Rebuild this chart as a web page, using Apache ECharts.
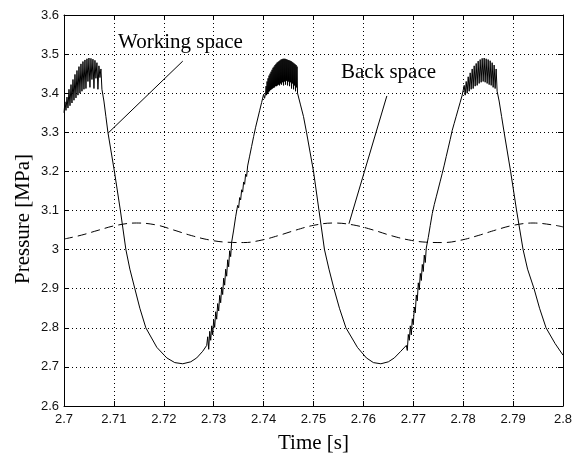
<!DOCTYPE html>
<html>
<head>
<meta charset="utf-8">
<script src="https://cdn.jsdelivr.net/npm/echarts@6/dist/echarts.min.js"></script>
<style>
  html, body { margin: 0; padding: 0; background: #fff; }
  #chart { width: 584px; height: 459px; }
</style>
</head>
<body>
<div id="chart"></div>
<script>
// tick values
var timeTicks = [2.7, 2.71, 2.72, 2.73, 2.74, 2.75, 2.76, 2.77, 2.78, 2.79, 2.8];
var pressureTicks = [2.6, 2.7, 2.8, 2.9, 3.0, 3.1, 3.2, 3.3, 3.4, 3.5, 3.6];

// working space pressure [time, MPa] (incl. the ripple at the peaks)
var workingSpace = [
  // first peak
  [2.7000,3.350],[2.7002,3.378],[2.7004,3.356],[2.7006,3.390],[2.7008,3.362],[2.7010,3.410],
  [2.7012,3.368],[2.7014,3.422],[2.7016,3.375],[2.7018,3.435],[2.7020,3.382],[2.7022,3.448],
  [2.7024,3.388],[2.7026,3.458],[2.7028,3.395],[2.7030,3.468],[2.7032,3.400],[2.7034,3.475],
  [2.7036,3.405],[2.7038,3.481],[2.7040,3.410],[2.7042,3.485],[2.7044,3.412],[2.7046,3.488],
  [2.7048,3.430],[2.7050,3.490],[2.7052,3.415],[2.7054,3.489],[2.7056,3.435],[2.7058,3.487],
  [2.7060,3.412],[2.7062,3.484],[2.7064,3.438],[2.7066,3.478],[2.7068,3.410],[2.7070,3.470],
  [2.7072,3.440],[2.7074,3.462],[2.7076,3.410],
  // expansion / first valley
  [2.7080,3.380],[2.7084,3.340],[2.7088,3.300],[2.7101,3.200],[2.7113,3.100],[2.7124,3.000],
  [2.7132,2.950],[2.7142,2.900],[2.7152,2.850],[2.7164,2.800],[2.7186,2.750],[2.7206,2.723],
  [2.7222,2.711],[2.7238,2.708],[2.7254,2.713],[2.7266,2.723],[2.7278,2.740],
  // first compression
  [2.7286,2.755],[2.7288,2.777],[2.7290,2.745],[2.7292,2.791],[2.7294,2.768],[2.7296,2.805],
  [2.7298,2.782],[2.7300,2.820],[2.7302,2.801],[2.7304,2.841],[2.7306,2.822],[2.7308,2.862],
  [2.7310,2.843],[2.7312,2.883],[2.7314,2.864],[2.7316,2.904],[2.7318,2.885],[2.7320,2.927],
  [2.7322,2.909],[2.7324,2.950],[2.7326,2.932],[2.7328,2.974],[2.7330,2.956],[2.7332,2.997],
  [2.7334,2.982],[2.7336,3.019],[2.7338,3.014],[2.7340,3.050],[2.7342,3.047],[2.7344,3.084],
  [2.7346,3.080],[2.7348,3.113],[2.7350,3.107],[2.7352,3.133],[2.7354,3.127],[2.7356,3.153],
  [2.7358,3.147],[2.7360,3.173],[2.7362,3.167],[2.7364,3.193],[2.7366,3.187],[2.7368,3.214],
  [2.7370,3.211],[2.7372,3.239],[2.7374,3.236],[2.7376,3.264],[2.7378,3.261],[2.7380,3.289],
  [2.7382,3.286],[2.7384,3.313],[2.7386,3.308],[2.7388,3.334],[2.7390,3.329],[2.7392,3.355],
  [2.7394,3.350],[2.7396,3.376],[2.7398,3.371],[2.7400,3.397],[2.7402,3.387],
  // second peak
  [2.7404,3.400],[2.7405,3.418],[2.7406,3.395],[2.7407,3.430],[2.7408,3.398],[2.7409,3.438],
  [2.7410,3.402],[2.7411,3.445],[2.7412,3.405],[2.7413,3.450],[2.7414,3.408],[2.7415,3.455],
  [2.7416,3.410],[2.7417,3.460],[2.7418,3.412],[2.7419,3.465],[2.7420,3.414],[2.7421,3.468],
  [2.7422,3.415],[2.7423,3.472],[2.7424,3.418],[2.7425,3.475],[2.7426,3.418],[2.7427,3.478],
  [2.7428,3.420],[2.7429,3.480],[2.7430,3.422],[2.7431,3.482],[2.7432,3.420],[2.7433,3.484],
  [2.7434,3.425],[2.7435,3.486],[2.7436,3.422],[2.7437,3.487],[2.7438,3.428],[2.7439,3.488],
  [2.7440,3.420],[2.7441,3.488],[2.7442,3.430],[2.7443,3.488],[2.7444,3.422],[2.7445,3.487],
  [2.7446,3.432],[2.7447,3.486],[2.7448,3.420],[2.7449,3.485],[2.7450,3.430],[2.7451,3.484],
  [2.7452,3.418],[2.7453,3.483],[2.7454,3.428],[2.7455,3.482],[2.7456,3.412],[2.7457,3.480],
  [2.7458,3.425],[2.7459,3.478],[2.7460,3.410],[2.7461,3.476],[2.7462,3.420],[2.7463,3.474],
  [2.7464,3.405],[2.7465,3.472],[2.7466,3.415],[2.7467,3.468],[2.7468,3.400],
  // expansion / second valley
  [2.7474,3.370],[2.7480,3.340],[2.7486,3.300],[2.7500,3.200],[2.7511,3.100],[2.7522,3.000],
  [2.7531,2.950],[2.7541,2.900],[2.7552,2.850],[2.7565,2.800],[2.7588,2.750],[2.7606,2.723],
  [2.7620,2.711],[2.7635,2.708],[2.7650,2.713],[2.7662,2.723],[2.7675,2.740],
  // second compression
  [2.7686,2.755],[2.7688,2.742],[2.7690,2.783],[2.7692,2.768],[2.7694,2.805],[2.7696,2.782],
  [2.7698,2.823],[2.7700,2.808],[2.7702,2.853],[2.7704,2.838],[2.7706,2.884],[2.7708,2.869],
  [2.7710,2.915],[2.7712,2.897],[2.7714,2.939],[2.7716,2.921],[2.7718,2.962],[2.7720,2.944],
  [2.7722,2.986],[2.7724,2.967],[2.7726,3.004],[2.7728,3.000],[2.7730,3.031],[2.7732,3.031],
  [2.7734,3.062],[2.7736,3.062],[2.7738,3.092],[2.7740,3.094],[2.7742,3.115],[2.7744,3.115],
  [2.7746,3.135],[2.7748,3.135],[2.7750,3.155],[2.7752,3.155],[2.7754,3.175],[2.7756,3.175],
  [2.7758,3.195],[2.7760,3.195],[2.7762,3.216],[2.7764,3.217],[2.7766,3.238],[2.7768,3.239],
  [2.7770,3.260],[2.7772,3.261],[2.7774,3.282],[2.7776,3.283],[2.7778,3.305],[2.7780,3.304],
  [2.7782,3.323],[2.7784,3.322],[2.7786,3.341],[2.7788,3.340],[2.7790,3.359],[2.7792,3.358],
  [2.7794,3.377],[2.7796,3.376],[2.7798,3.395],
  // third peak
  [2.7800,3.400],[2.7802,3.420],[2.7804,3.395],[2.7806,3.430],[2.7808,3.400],[2.7810,3.442],
  [2.7812,3.405],[2.7814,3.452],[2.7816,3.410],[2.7818,3.462],[2.7820,3.412],[2.7822,3.470],
  [2.7824,3.418],[2.7826,3.476],[2.7828,3.420],[2.7830,3.482],[2.7832,3.425],[2.7834,3.486],
  [2.7836,3.428],[2.7838,3.489],[2.7840,3.430],[2.7842,3.490],[2.7844,3.428],[2.7846,3.488],
  [2.7848,3.425],[2.7850,3.486],[2.7852,3.422],[2.7854,3.483],[2.7856,3.420],[2.7858,3.478],
  [2.7860,3.415],[2.7862,3.472],[2.7864,3.412],[2.7866,3.462],[2.7868,3.405],
  // expansion
  [2.7872,3.380],[2.7877,3.340],[2.7882,3.300],[2.7895,3.200],[2.7907,3.100],[2.7920,3.000],
  [2.7929,2.950],[2.7942,2.900],[2.7953,2.850],[2.7966,2.800],[2.7984,2.760],[2.8000,2.730]
];

// back space pressure [time, MPa]
var backSpace = [
  [2.700,3.027],[2.7035,3.037],[2.707,3.050],[2.7105,3.062],[2.7145,3.068],[2.7185,3.063],
  [2.722,3.050],[2.7255,3.036],[2.729,3.025],[2.7325,3.019],[2.736,3.018],[2.7395,3.024],
  [2.743,3.036],[2.7465,3.050],[2.750,3.062],[2.754,3.068],[2.758,3.063],[2.762,3.050],
  [2.7655,3.036],[2.769,3.025],[2.7725,3.019],[2.776,3.018],[2.7795,3.024],[2.783,3.036],
  [2.7865,3.050],[2.790,3.062],[2.794,3.068],[2.798,3.063],[2.800,3.058]
];

// annotation leader lines (from curve to label)
var workingLeader = [[2.7090, 3.300], [2.7238, 3.482]];
var backLeader = [[2.7571, 3.066], [2.7647, 3.393]];

var myChart = echarts.init(document.getElementById('chart'));

var serif = '"Liberation Serif", "Times New Roman", serif';
var fmt = function (v) { return String(+v.toFixed(2)); };

function xAx(pos, labels) {
  return {
    type: 'value', position: pos, min: 2.7, max: 2.8, interval: 0.01,
    axisLine: { show: true, onZero: false, lineStyle: { color: '#000', width: 1 } },
    axisTick: { show: true, inside: true, length: 5, lineStyle: { color: '#000' } },
    axisLabel: { show: labels, formatter: fmt, margin: 7, color: '#111', fontSize: 13, fontFamily: '"Liberation Sans", Arial, sans-serif' },
    splitLine: { show: labels, lineStyle: { color: '#000', width: 1, type: [1, 3] } }
  };
}
function yAx(pos, labels) {
  return {
    type: 'value', position: pos, min: 2.6, max: 3.6, interval: 0.1,
    axisLine: { show: true, onZero: false, lineStyle: { color: '#000', width: 1 } },
    axisTick: { show: true, inside: true, length: 5, lineStyle: { color: '#000' } },
    axisLabel: { show: labels, formatter: fmt, margin: 5, color: '#111', fontSize: 13, fontFamily: '"Liberation Sans", Arial, sans-serif' },
    splitLine: { show: labels, lineStyle: { color: '#000', width: 1, type: [1, 3] } }
  };
}

var xMain = xAx('bottom', true);
xMain.name = 'Time [s]';
xMain.nameLocation = 'middle';
xMain.nameGap = 27;
xMain.nameTextStyle = { fontFamily: serif, fontSize: 21, color: '#000', verticalAlign: 'top' };

option = {
  animation: false,
  backgroundColor: '#fff',
  grid: { left: 64, right: 21, top: 15, bottom: 53 },
  xAxis: [xMain, xAx('top', false)],
  yAxis: [yAx('left', true), yAx('right', false)],
  graphic: [
    { type: 'text', x: 23, y: 219, rotation: Math.PI / 2,
      style: { text: 'Pressure [MPa]', font: '21px ' + serif, fill: '#000', align: 'center', verticalAlign: 'middle' } },
    { type: 'text', x: 118, y: 42,
      style: { text: 'Working space', font: '21px ' + serif, fill: '#000', align: 'left', verticalAlign: 'middle' } },
    { type: 'text', x: 341, y: 72,
      style: { text: 'Back space', font: '21px ' + serif, fill: '#000', align: 'left', verticalAlign: 'middle' } }
  ],
  series: [
    {
      name: 'Working space', type: 'line', data: workingSpace, showSymbol: false, symbol: 'none',
      sampling: null, lineStyle: { color: '#000', width: 1 },
      markLine: {
        silent: true, symbol: 'none', label: { show: false },
        lineStyle: { color: '#000', width: 1, type: 'solid' },
        data: [
          [{ coord: workingLeader[0] }, { coord: workingLeader[1] }],
          [{ coord: backLeader[0] }, { coord: backLeader[1] }]
        ]
      }
    },
    {
      name: 'Back space', type: 'line', data: backSpace, showSymbol: false, symbol: 'none',
      smooth: 0.4, lineStyle: { color: '#000', width: 1, type: [9, 5] }
    }
  ]
};
myChart.setOption(option);
</script>
</body>
</html>
